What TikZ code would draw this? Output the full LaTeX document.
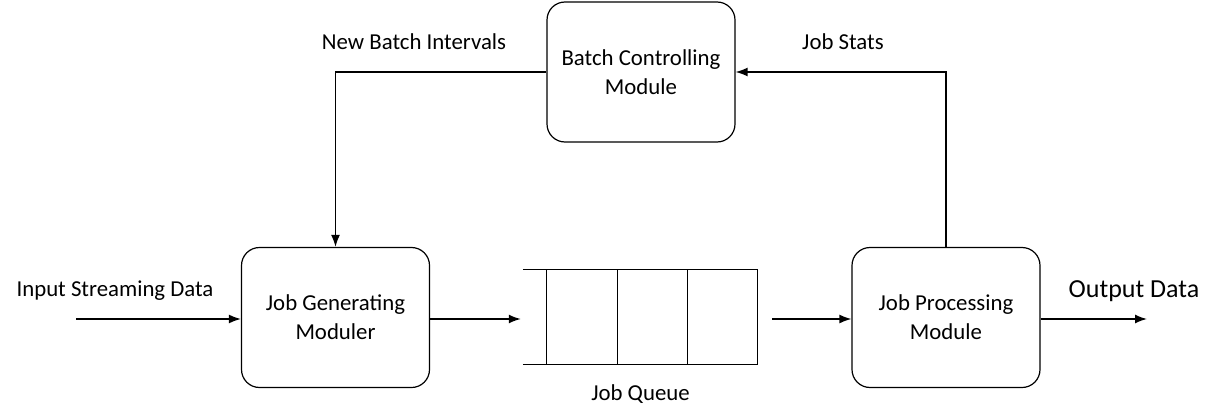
\documentclass[tikz,border=0pt]{standalone}
\usepackage{fontspec}
\setmainfont{Carlito}
\usetikzlibrary{arrows.meta,positioning}

\tikzset{
    module/.style={draw, line width=1.2pt, rounded corners=18pt, minimum width=188pt, minimum height=140pt, align=center, font=\fontsize{22.8}{29}\selectfont},
    flow/.style={line width=1.5pt, -{Latex[length=12pt,width=9pt]}},
    lbl/.style={font=\fontsize{22.8}{29}\selectfont}
}

\begin{document}
\begin{tikzpicture}[x=1pt,y=-1pt]
    \useasboundingbox (0,0) rectangle (1218,420);
    %modules
    \node[module] (batch) at (641,72) {Batch Controlling\\Module};
    \node[module] (gen) at (335.5,317.5) {Job Generating\\Moduler};
    \node[module] (proc) at (946,317.5) {Job Processing\\Module};
    %queue
    \node[minimum width=235pt, minimum height=94pt, inner sep=0pt] (queue) at (640.5,317) {};
    \begin{scope}[line width=1.3pt]
    \draw (queue.north west) -- (queue.north east);
    \draw (queue.south west) -- (queue.south east);
    \foreach \x in {24,95,165,235}
        \draw ([xshift=\x pt]queue.north west) -- ([xshift=\x pt]queue.south west);
    \end{scope}
    \node[lbl, below=17pt of queue] (qlabel) {Job Queue};
    %data in and out
    \coordinate (in) at (76,319);
    \coordinate (out) at (1147,319);
    \draw[flow] (in) -- (in -| gen.west);
    \draw[flow] (gen.east |- in) -- ([xshift=-2pt]queue.west |- in);
    \draw[flow] ([xshift=14pt]queue.east |- in) -- (proc.west |- in);
    \draw[flow] (proc.east |- out) -- (out);
    \node[lbl] (inlabel) at (115,291) {Input Streaming Data};
    \node[lbl, font=\fontsize{26}{30}\selectfont] (outlabel) at (1134,291) {Output Data};
    %feedback
    \draw[flow] (proc.north) |- (batch.east);
    \draw[flow] (batch.west) -| (gen.north);
    \node[lbl] (stats) at (843,42) {Job Stats};
    \node[lbl] (intervals) at (414,42) {New Batch Intervals};
\end{tikzpicture}
\end{document}
